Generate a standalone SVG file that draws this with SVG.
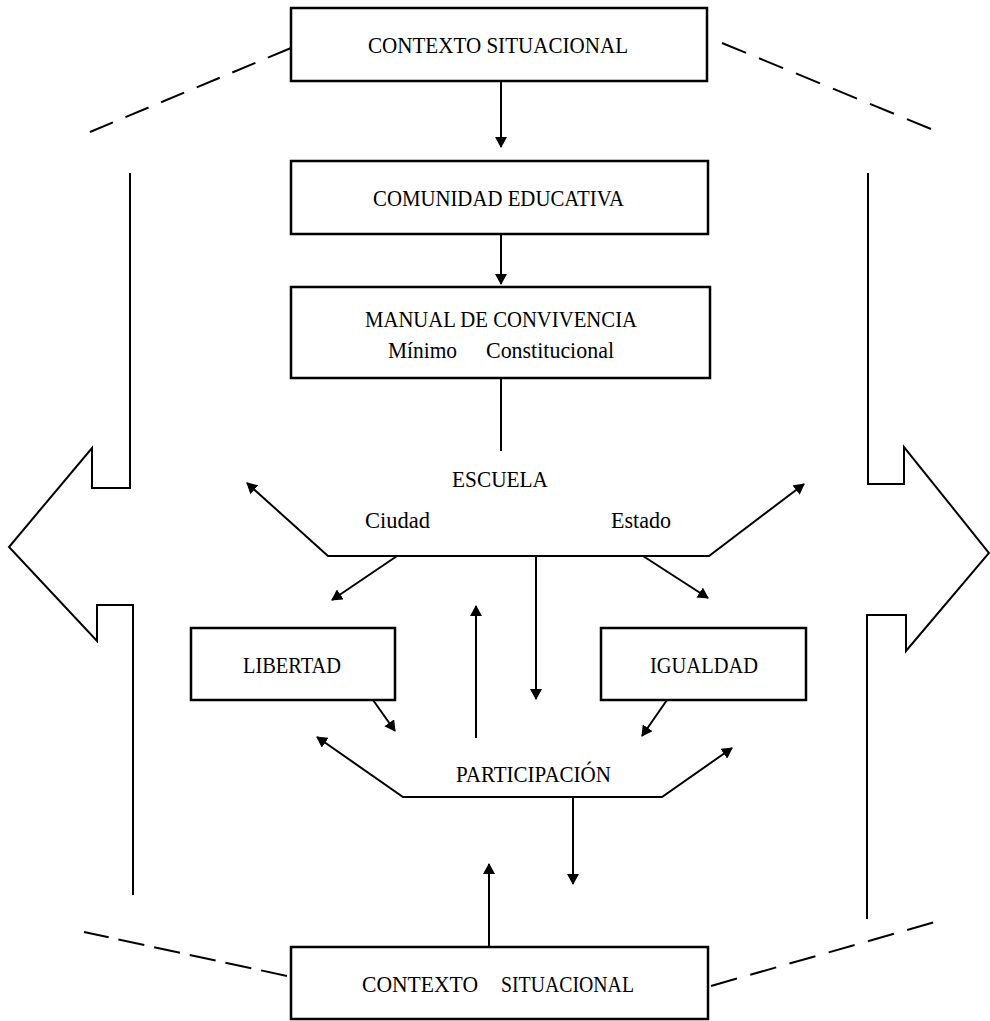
<svg xmlns="http://www.w3.org/2000/svg" width="990" height="1021" viewBox="0 0 990 1021">
  <defs>
    <style>
      .box{fill:#fff;stroke:#000;stroke-width:2.5}
      .ln{fill:none;stroke:#000;stroke-width:2}
      .dash{fill:none;stroke:#000;stroke-width:2}
      .lbl{font-family:"Liberation Serif","Times New Roman",serif;font-size:24px;fill:#000}
      .end{marker-end:url(#ah)}
      .both{marker-start:url(#ah);marker-end:url(#ah)}
    </style>
    <marker id="ah" markerUnits="userSpaceOnUse" markerWidth="12" markerHeight="12" refX="10" refY="6" orient="auto-start-reverse">
      <path d="M0,0 L11,6 L0,12 z" fill="#000"/>
    </marker>
  </defs>

  <rect width="990" height="1021" fill="#fff"/>

  <!-- outer frame: dashed links and the two broad side arrows -->
  <g id="frame">
    <line class="dash" x1="291" y1="48" x2="90" y2="132" stroke-dasharray="25 13.6"/>
    <line class="dash" x1="722" y1="43" x2="931" y2="129" stroke-dasharray="26 14"/>
    <line class="dash" x1="287" y1="976" x2="84" y2="932" stroke-dasharray="26.5 10"/>
    <line class="dash" x1="711" y1="986" x2="935" y2="922" stroke-dasharray="27 13.8"/>
    <polyline class="ln" points="130,173 130,488 92,488 92,448 9,547 97,641 97,605 133,605 133,895"/>
    <polyline class="ln" points="868,173 868,484 904,484 904,447 989,553 906,651 906,615 867,615 867,919"/>
  </g>

  <!-- connectors -->
  <g id="connectors">
    <line class="ln end" x1="501" y1="81" x2="501" y2="147"/>
    <line class="ln end" x1="501" y1="234" x2="501" y2="284"/>
    <line class="ln" x1="501" y1="378" x2="501" y2="451"/>
    <polyline class="ln both" points="247,483 328,556 709,556 804,484"/>
    <line class="ln end" x1="397" y1="556" x2="332" y2="600"/>
    <line class="ln end" x1="643" y1="556" x2="708" y2="598"/>
    <line class="ln end" x1="536" y1="556" x2="536" y2="699"/>
    <line class="ln end" x1="476" y1="738" x2="476" y2="606"/>
    <line class="ln end" x1="373" y1="700" x2="395" y2="731"/>
    <line class="ln end" x1="667" y1="700" x2="642" y2="736"/>
    <polyline class="ln both" points="317,737 403,797 662,797 732,748"/>
    <line class="ln end" x1="573" y1="797" x2="573" y2="884"/>
    <line class="ln end" x1="489" y1="947" x2="489" y2="864"/>
  </g>

  <g id="contexto-top">
    <rect class="box" x="291" y="8" width="416" height="73"/>
    <text class="lbl" x="368" y="53" textLength="260" lengthAdjust="spacingAndGlyphs">CONTEXTO SITUACIONAL</text>
  </g>

  <g id="comunidad">
    <rect class="box" x="291" y="161" width="417" height="73"/>
    <text class="lbl" x="373" y="206" textLength="251" lengthAdjust="spacingAndGlyphs">COMUNIDAD EDUCATIVA</text>
  </g>

  <g id="manual">
    <rect class="box" x="291" y="287" width="419" height="91"/>
    <text class="lbl" x="365" y="327" textLength="272" lengthAdjust="spacingAndGlyphs">MANUAL DE CONVIVENCIA</text>
    <text class="lbl" x="388" y="358" textLength="69" lengthAdjust="spacingAndGlyphs">Mínimo</text>
    <text class="lbl" x="486" y="358" textLength="128" lengthAdjust="spacingAndGlyphs">Constitucional</text>
  </g>

  <g id="escuela">
    <text class="lbl" x="452" y="487" textLength="96" lengthAdjust="spacingAndGlyphs">ESCUELA</text>
    <text class="lbl" x="365" y="528" textLength="65" lengthAdjust="spacingAndGlyphs">Ciudad</text>
    <text class="lbl" x="611" y="528" textLength="60" lengthAdjust="spacingAndGlyphs">Estado</text>
  </g>

  <g id="libertad">
    <rect class="box" x="191" y="628" width="204" height="72"/>
    <text class="lbl" x="243" y="673" textLength="98" lengthAdjust="spacingAndGlyphs">LIBERTAD</text>
  </g>

  <g id="igualdad">
    <rect class="box" x="601" y="628" width="205" height="72"/>
    <text class="lbl" x="650" y="673" textLength="108" lengthAdjust="spacingAndGlyphs">IGUALDAD</text>
  </g>

  <g id="participacion">
    <text class="lbl" x="456" y="782" textLength="155" lengthAdjust="spacingAndGlyphs">PARTICIPACIÓN</text>
  </g>

  <g id="contexto-bottom">
    <rect class="box" x="291" y="947" width="417" height="72"/>
    <text class="lbl" x="362" y="992" textLength="116" lengthAdjust="spacingAndGlyphs">CONTEXTO</text>
    <text class="lbl" x="501" y="992" textLength="133" lengthAdjust="spacingAndGlyphs">SITUACIONAL</text>
  </g>
</svg>
